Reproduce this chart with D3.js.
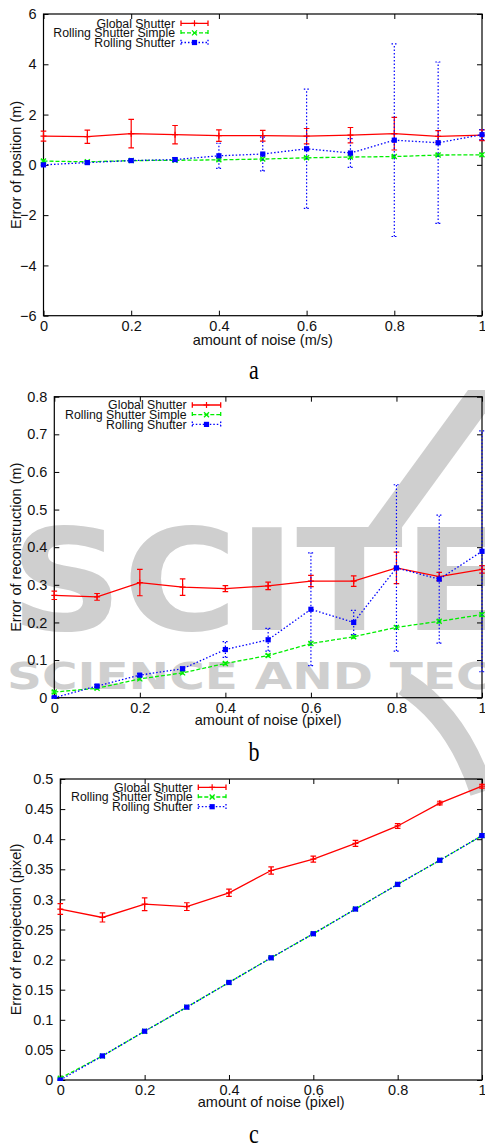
<!DOCTYPE html>
<html><head><meta charset="utf-8">
<script src="https://cdn.jsdelivr.net/npm/d3@7"></script>
<style>
html,body{margin:0;padding:0;background:#fff;}
svg{display:block;}
text{font-family:"Liberation Sans",Arial,sans-serif;}
</style></head>
<body>
<script>
// ---------- data ----------
const noiseX = [0, 0.1, 0.2, 0.3, 0.4, 0.5, 0.6, 0.7, 0.8, 0.9, 1];
const xTicks = [0, 0.2, 0.4, 0.6, 0.8, 1];
const seriesNames = ["Global Shutter", "Rolling Shutter Simple", "Rolling Shutter"];

// panel a : error of position (m)
const aYTicks = [-6, -4, -2, 0, 2, 4, 6];
const aGlobal = [1.14, 1.12, 1.24, 1.20, 1.16, 1.16, 1.14, 1.18, 1.24, 1.13, 1.18];
const aGlobalErr = [0.20, 0.265, 0.565, 0.365, 0.23, 0.215, 0.305, 0.305, 0.65, 0.235, 0.215];
const aSimple = [0.15, 0.12, 0.17, 0.18, 0.20, 0.23, 0.28, 0.31, 0.33, 0.39, 0.40];
const aSimpleErr = [0.05, 0.04, 0.04, 0.04, 0.04, 0.04, 0.05, 0.05, 0.05, 0.05, 0.05];
const aRolling = [0.0, 0.09, 0.17, 0.21, 0.36, 0.43, 0.64, 0.47, 0.98, 0.88, 1.20];
const aRollingErr = [0.03, 0.05, 0.05, 0.08, 0.50, 0.67, 2.37, 0.57, 3.83, 3.21, 0.20];

// panel b : error of reconstruction (m)
const bYTicks = [0, 0.1, 0.2, 0.3, 0.4, 0.5, 0.6, 0.7, 0.8];
const bGlobal = [0.272, 0.268, 0.306, 0.294, 0.290, 0.297, 0.310, 0.310, 0.345, 0.322, 0.341];
const bGlobalErr = [0.011, 0.009, 0.035, 0.022, 0.008, 0.010, 0.015, 0.014, 0.042, 0.011, 0.010];
const bSimple = [0.015, 0.025, 0.050, 0.066, 0.091, 0.112, 0.144, 0.162, 0.187, 0.203, 0.221];
const bSimpleErr = [0.003, 0.003, 0.003, 0.003, 0.003, 0.003, 0.004, 0.004, 0.004, 0.004, 0.004];
const bRolling = [0.0, 0.031, 0.060, 0.077, 0.128, 0.154, 0.235, 0.200, 0.345, 0.315, 0.389];
const bRollingErr = [0.002, 0.004, 0.004, 0.004, 0.021, 0.030, 0.150, 0.032, 0.221, 0.170, 0.320];

// panel c : error of reprojection (pixel)
const cYTicks = [0, 0.05, 0.1, 0.15, 0.2, 0.25, 0.3, 0.35, 0.4, 0.45, 0.5];
const cGlobal = [0.284, 0.270, 0.292, 0.288, 0.311, 0.348, 0.367, 0.393, 0.422, 0.460, 0.488];
const cGlobalErr = [0.009, 0.0075, 0.0105, 0.0064, 0.006, 0.006, 0.005, 0.005, 0.004, 0.003, 0.003];
const cSimple = [0.003, 0.040, 0.081, 0.121, 0.162, 0.203, 0.243, 0.284, 0.325, 0.365, 0.406];
const cSimpleErr = [0.001, 0.001, 0.001, 0.001, 0.001, 0.001, 0.001, 0.001, 0.001, 0.001, 0.001];
const cRolling = [0.0, 0.040, 0.081, 0.121, 0.162, 0.203, 0.243, 0.284, 0.325, 0.365, 0.406];
const cRollingErr = [0.001, 0.001, 0.001, 0.001, 0.001, 0.001, 0.001, 0.001, 0.001, 0.001, 0.001];

// ---------- styles ----------
const styles = [
  {color: "#ff0000", dash: null, marker: "plus", width: 1.3},
  {color: "#00ee00", dash: "4,2", marker: "cross", width: 1.3},
  {color: "#0000ff", dash: "1.5,2", marker: "square", width: 1.3}
];

const W = 485, H = 1147;
const svg = d3.select("body").append("svg").attr("width", W).attr("height", H);

// ---------- watermark (background) ----------
const wm = svg.append("g").attr("fill", "#cfcfcf");
wm.append("text").attr("x", 10).attr("y", 630)
  .style("font-family", "DejaVu Sans").style("font-weight", "bold").style("font-size", "140px")
  .attr("textLength", 500).attr("lengthAdjust", "spacingAndGlyphs").text("SCITE");
wm.append("text").attr("x", 7).attr("y", 689)
  .style("font-family", "DejaVu Sans").style("font-weight", "bold").style("font-size", "37px")
  .attr("textLength", 751).attr("lengthAdjust", "spacingAndGlyphs").text("SCIENCE AND TECHNOLOGY");
wm.append("path").attr("d", "M468,390 L502,390 L400,530 L366,530 Z");
wm.append("path").attr("d", "M405,684 Q458,718 482,792").attr("fill", "none")
  .attr("stroke", "#cfcfcf").attr("stroke-width", 24);

// ---------- panels ----------
const panels = [
  {left: 43.5, right: 482, top: 14, bottom: 315.7, yDomain: [-6, 6], yTicks: aYTicks,
   data: [[aGlobal, aGlobalErr], [aSimple, aSimpleErr], [aRolling, aRollingErr]],
   xTitle: "amount of noise (m/s)", yTitle: "Error of position (m)", caption: "a",
   xTitleDy: 29.5, legend: {right: 175, x1: 181, x2: 208, y0: 23.3, dy: 9.6}},
  {left: 54.3, right: 482, top: 396.7, bottom: 697.7, yDomain: [0, 0.8], yTicks: bYTicks,
   data: [[bGlobal, bGlobalErr], [bSimple, bSimpleErr], [bRolling, bRollingErr]],
   xTitle: "amount of noise (pixel)", yTitle: "Error of reconstruction (m)", caption: "b",
   xTitleDy: 27, legend: {right: 186.7, x1: 192.3, x2: 220.7, y0: 405, dy: 9.7}},
  {left: 60.3, right: 482, top: 779, bottom: 1080, yDomain: [0, 0.5], yTicks: cYTicks,
   data: [[cGlobal, cGlobalErr], [cSimple, cSimpleErr], [cRolling, cRollingErr]],
   xTitle: "amount of noise (pixel)", yTitle: "Error of reprojection (pixel)", caption: "c",
   xTitleDy: 27, legend: {right: 192.7, x1: 198.3, x2: 226, y0: 787.3, dy: 9.7}}
];

function drawMarker(g, type, cx, cy, color) {
  if (type === "plus") {
    g.append("path").attr("d", `M${cx-3},${cy}H${cx+3}M${cx},${cy-3}V${cy+3}`)
      .attr("stroke", color).attr("stroke-width", 1.2).attr("fill", "none");
  } else if (type === "cross") {
    g.append("path").attr("d", `M${cx-2.5},${cy-2.5}L${cx+2.5},${cy+2.5}M${cx-2.5},${cy+2.5}L${cx+2.5},${cy-2.5}`)
      .attr("stroke", color).attr("stroke-width", 1.3).attr("fill", "none");
  } else {
    g.append("rect").attr("x", cx-2.6).attr("y", cy-2.6).attr("width", 5.2).attr("height", 5.2)
      .attr("fill", color);
  }
}

panels.forEach((p, pi) => {
  const x = d3.scaleLinear().domain([0, 1]).range([p.left, p.right]);
  const y = d3.scaleLinear().domain(p.yDomain).range([p.bottom, p.top]);
  const g = svg.append("g");
  const fmt = d3.format("~g");

  const clipId = "clip" + pi;
  svg.append("clipPath").attr("id", clipId).append("rect")
    .attr("x", p.left - 4).attr("y", p.top - 1).attr("width", p.right - p.left + 8).attr("height", p.bottom - p.top + 2);

  // axes
  const axB = g.append("g").attr("transform", `translate(0,${p.bottom})`)
    .call(d3.axisBottom(x).tickValues(xTicks).tickFormat(fmt).tickSizeInner(-5).tickSizeOuter(0).tickPadding(4.7));
  const axT = g.append("g").attr("transform", `translate(0,${p.top})`)
    .call(d3.axisTop(x).tickValues(xTicks).tickFormat("").tickSizeInner(-5).tickSizeOuter(0));
  const axL = g.append("g").attr("transform", `translate(${p.left},0)`)
    .call(d3.axisLeft(y).tickValues(p.yTicks).tickFormat(fmt).tickSizeInner(-5).tickSizeOuter(0).tickPadding(7));
  const axR = g.append("g").attr("transform", `translate(${p.right},0)`)
    .call(d3.axisRight(y).tickValues(p.yTicks).tickFormat("").tickSizeInner(-5).tickSizeOuter(0));
  [axB, axT, axL, axR].forEach(a => {
    a.select(".domain").remove();
    a.selectAll("line").attr("stroke", "#000").attr("stroke-width", 1);
    a.selectAll("text").style("font-family", '"Liberation Sans",Arial,sans-serif')
      .style("font-size", "14.5px").attr("fill", "#111");
  });
  g.append("rect").attr("x", p.left).attr("y", p.top).attr("width", p.right - p.left).attr("height", p.bottom - p.top)
    .attr("fill", "none").attr("stroke", "#000").attr("stroke-width", 1.2);

  // titles
  g.append("text").attr("x", (p.left + p.right) / 2).attr("y", p.bottom + p.xTitleDy)
    .attr("text-anchor", "middle").style("font-size", "14.5px").attr("fill", "#111").text(p.xTitle);
  g.append("text").attr("transform", `translate(21,${(p.top + p.bottom) / 2}) rotate(-90)`)
    .attr("text-anchor", "middle").style("font-size", "14.5px").attr("fill", "#111").text(p.yTitle);
  g.append("text").attr("transform", `translate(254,${p.bottom + 63}) scale(1,1.2)`)
    .attr("text-anchor", "middle").style("font-family", '"Liberation Serif",serif').style("font-size", "22px")
    .attr("fill", "#000").text(p.caption);

  // series
  const plot = g.append("g").attr("clip-path", `url(#${clipId})`);
  p.data.forEach((pair, si) => {
    const st = styles[si];
    const pts = noiseX.map((xv, i) => ({x: xv, y: pair[0][i], e: pair[1][i]}));
    const sg = plot.append("g");
    // error bars
    pts.forEach(d => {
      const x0 = x(d.x), y1 = y(d.y - d.e), y2 = y(d.y + d.e);
      sg.append("path").attr("d", `M${x0},${y1}V${y2}M${x0-2.8},${y1}H${x0+2.8}M${x0-2.8},${y2}H${x0+2.8}`)
        .attr("fill", "none").attr("stroke", st.color).attr("stroke-width", 1.2)
        .attr("stroke-dasharray", st.dash);
    });
    // line
    sg.append("path").datum(pts)
      .attr("d", d3.line().x(d => x(d.x)).y(d => y(d.y)))
      .attr("fill", "none").attr("stroke", st.color).attr("stroke-width", st.width)
      .attr("stroke-dasharray", st.dash);
    // markers
    pts.forEach(d => drawMarker(sg, st.marker, x(d.x), y(d.y), st.color));
  });

  // legend
  const L = p.legend;
  seriesNames.forEach((name, si) => {
    const st = styles[si];
    const ly = L.y0 + si * L.dy;
    g.append("text").attr("x", L.right).attr("y", ly).attr("dy", "0.35em")
      .attr("text-anchor", "end").style("font-size", "12.3px").attr("fill", "#111").text(name);
    g.append("path").attr("d", `M${L.x1},${ly}H${L.x2}M${L.x1},${ly-2.8}V${ly+2.8}M${L.x2},${ly-2.8}V${ly+2.8}`)
      .attr("fill", "none").attr("stroke", st.color).attr("stroke-width", 1.3).attr("stroke-dasharray", st.dash);
    drawMarker(g, st.marker, (L.x1 + L.x2) / 2, ly, st.color);
  });
});
</script>
</body></html>
